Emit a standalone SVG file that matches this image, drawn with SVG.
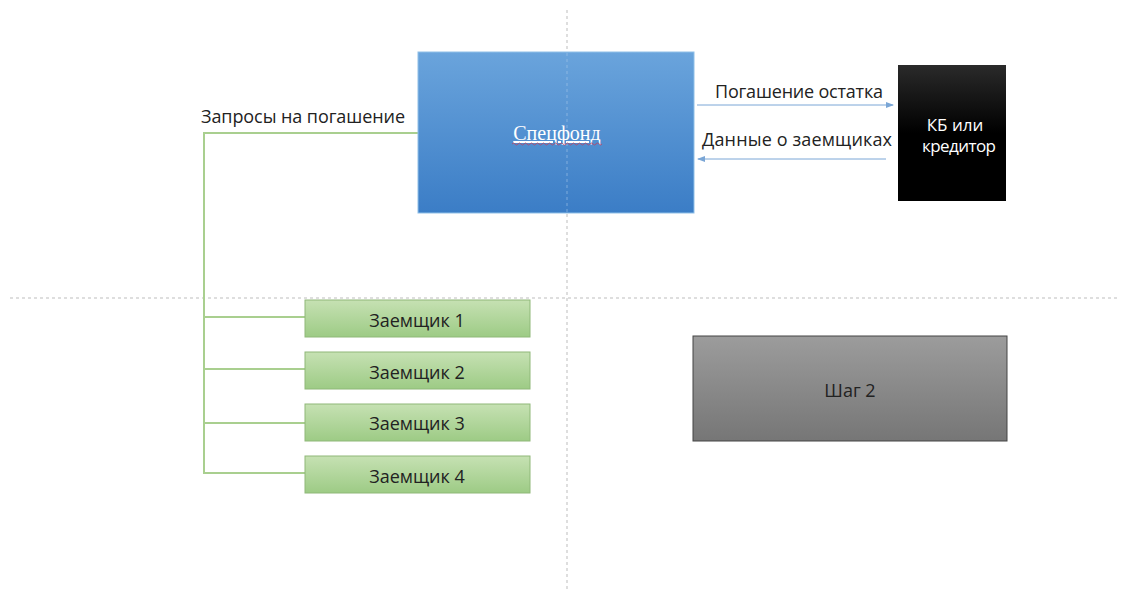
<svg xmlns="http://www.w3.org/2000/svg" width="1121" height="591" viewBox="0 0 1121 591">
<style>
.lbl{font-family:"Open Sans","Liberation Sans",sans-serif;font-size:18px;fill:#222}
.guide{stroke:#bdbdbd;stroke-width:1;stroke-dasharray:3 3;fill:none}
.green{stroke:#a9cf8f;stroke-width:2;fill:none}
.gbox{fill:url(#gGreen);stroke:#8fb878;stroke-width:1}
.arr{stroke:#7aa6d6;stroke-width:1;fill:none}
</style>
<defs>
<linearGradient id="gBlue" x1="0" y1="0" x2="0" y2="1"><stop offset="0" stop-color="#6aa4dc"/><stop offset="1" stop-color="#3b7dc6"/></linearGradient>
<linearGradient id="gBlack" x1="0" y1="0" x2="0" y2="1"><stop offset="0" stop-color="#2a2a2a"/><stop offset="0.5" stop-color="#000"/><stop offset="1" stop-color="#000"/></linearGradient>
<linearGradient id="gGreen" x1="0" y1="0" x2="0" y2="1"><stop offset="0" stop-color="#c6e1b3"/><stop offset="1" stop-color="#9dcb85"/></linearGradient>
<linearGradient id="gGray" x1="0" y1="0" x2="0" y2="1"><stop offset="0" stop-color="#9c9c9c"/><stop offset="1" stop-color="#767676"/></linearGradient>
<marker id="ah" markerWidth="8" markerHeight="6" refX="7" refY="3" orient="auto" markerUnits="userSpaceOnUse"><path d="M0,0 L8,3 L0,6 z" fill="#7aa6d6"/></marker>
</defs>
<rect width="1121" height="591" fill="#fff"/>
<g id="guides">
<line class="guide" x1="567" y1="10" x2="567" y2="590"/>
<line class="guide" x1="10" y1="298" x2="1120" y2="298"/>
</g>
<g id="connectors">
<polyline class="green" points="418,133 204,133 204,473 305,473"/>
<line class="green" x1="204" y1="317" x2="305" y2="317"/>
<line class="green" x1="204" y1="369" x2="305" y2="369"/>
<line class="green" x1="204" y1="423" x2="305" y2="423"/>
<line class="arr" x1="697" y1="105" x2="893" y2="105" marker-end="url(#ah)"/>
<line class="arr" x1="886" y1="159" x2="698" y2="159" marker-end="url(#ah)"/>
<text class="lbl" x="201" y="123" textLength="204">Запросы на погашение</text>
<text class="lbl" x="715" y="98" textLength="168">Погашение остатка</text>
<text class="lbl" x="702" y="146" textLength="190">Данные о заемщиках</text>
</g>
<g id="specfond">
<rect x="418" y="52" width="276" height="161" fill="url(#gBlue)" stroke="#8fc0e8" stroke-width="1"/>
<line x1="567" y1="53" x2="567" y2="212" stroke="#a8c8ea" stroke-width="1" stroke-dasharray="3 3" opacity="0.6"/>
<text x="557" y="140" text-anchor="middle" font-family="Liberation Serif,serif" font-size="20" fill="#fff" text-decoration="underline">Спецфонд</text>
<path d="M512,144 q1.5,-2 3,0 t3,0 t3,0 t3,0 t3,0 t3,0 t3,0 t3,0 t3,0 t3,0 t3,0 t3,0 t3,0 t3,0 t3,0 t3,0 t3,0 t3,0 t3,0 t3,0 t3,0 t3,0 t3,0 t3,0 t3,0 t3,0 t3,0 t3,0 t3,0 t3,0" fill="none" stroke="#c04060" stroke-width="0.8"/>
</g>
<g id="kb">
<rect x="898" y="65" width="108" height="136" fill="url(#gBlack)"/>
<text x="955" y="131" text-anchor="middle" font-family="Open Sans,Liberation Sans,sans-serif" font-size="17" fill="#fff">КБ или</text>
<text x="959" y="152" text-anchor="middle" font-family="Open Sans,Liberation Sans,sans-serif" font-size="17" fill="#fff" textLength="74">кредитор</text>
</g>
<g id="z1"><rect class="gbox" x="305" y="300" width="225" height="37"/><text class="lbl" x="417" y="327" text-anchor="middle">Заемщик 1</text></g>
<g id="z2"><rect class="gbox" x="305" y="352" width="225" height="37"/><text class="lbl" x="417" y="379" text-anchor="middle">Заемщик 2</text></g>
<g id="z3"><rect class="gbox" x="305" y="404" width="225" height="37"/><text class="lbl" x="417" y="430" text-anchor="middle">Заемщик 3</text></g>
<g id="z4"><rect class="gbox" x="305" y="456" width="225" height="37"/><text class="lbl" x="417" y="483" text-anchor="middle">Заемщик 4</text></g>
<g id="step2">
<rect x="693" y="336" width="314" height="105" fill="url(#gGray)" stroke="#444" stroke-width="1"/>
<text class="lbl" x="850" y="397" text-anchor="middle">Шаг 2</text>
</g>
</svg>
